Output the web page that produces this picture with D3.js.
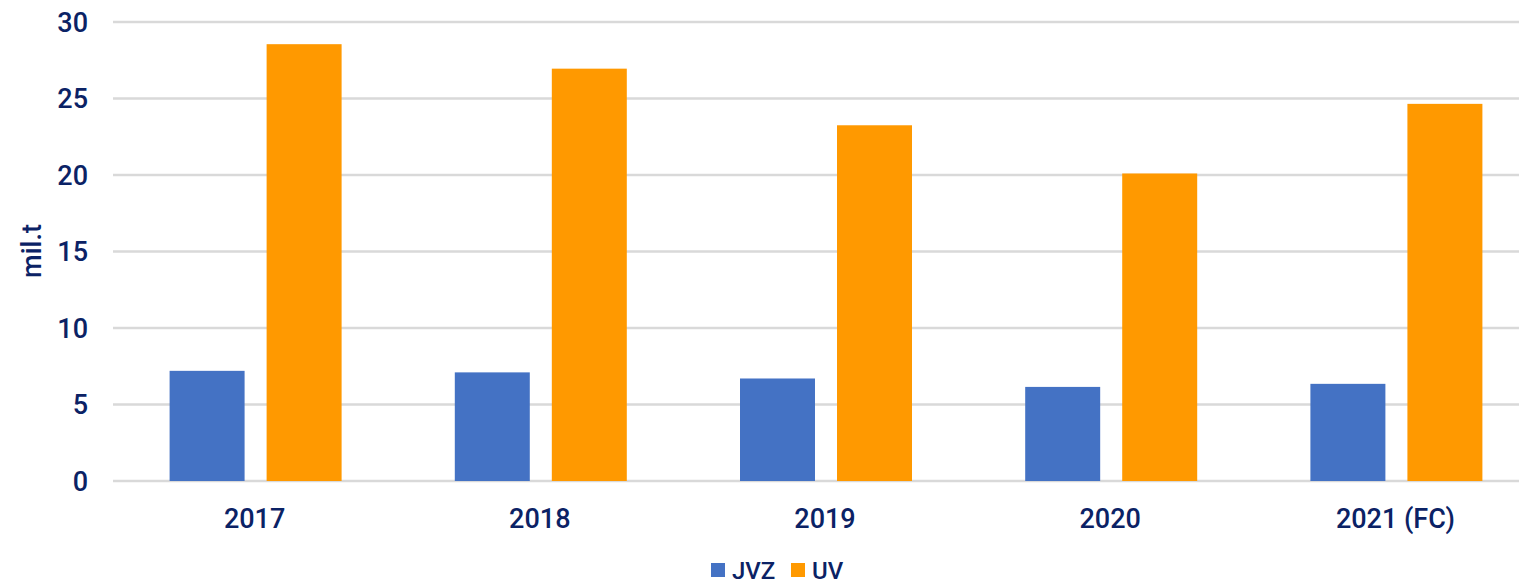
<!DOCTYPE html>
<html><head><meta charset="utf-8">
<script src="https://cdn.jsdelivr.net/npm/d3@7"></script>
<style>body{margin:0;background:#fff}svg{display:block}text{font-family:Roboto,"Liberation Sans",Arial,sans-serif;font-weight:500;fill:#0B2265}</style>
</head><body><svg id="c" width="1519" height="584"></svg>
<script>
const categories = ["2017","2018","2019","2020","2021 (FC)"];
const seriesNames = ["JVZ","UV"];
const jvz = [7.2, 7.1, 6.7, 6.15, 6.35];
const uv = [28.55, 26.95, 23.25, 20.1, 24.65];
const yTicks = [0,5,10,15,20,25,30];
const colors = ["#4472C4","#FF9900"];

const svg = d3.select("#c");
const L=113, R=1539, T=22, B=481;
const x0 = d3.scaleBand().domain(categories).range([L,R]);
const y = d3.scaleLinear().domain([0,30]).range([B,T]);
const bw = x0.bandwidth();
const x1 = d3.scaleBand().domain(seriesNames).range([bw/2-86, bw/2+86]).paddingInner(0.227);

svg.append("g").selectAll("line").data(yTicks).join("line")
 .attr("x1",L).attr("x2",1519).attr("y1",d=>y(d)).attr("y2",d=>y(d))
 .attr("stroke","#d9d9d9").attr("stroke-width",2.5);
svg.append("g").selectAll("text").data(yTicks).join("text")
 .attr("x",88).attr("y",d=>y(d)).attr("dy","0.36em").attr("text-anchor","end")
 .attr("font-size",27).text(d=>d);

const data = [jvz, uv];
data.forEach((vals,si)=>{
  svg.append("g").selectAll("rect").data(categories).join("rect")
   .attr("x",c=>x0(c)+x1(seriesNames[si]))
   .attr("width",x1.bandwidth())
   .attr("y",(c,i)=>y(vals[i]))
   .attr("height",(c,i)=>B-y(vals[i]))
   .attr("fill",colors[si]);
});

svg.append("g").selectAll("text").data(categories).join("text")
 .attr("x",c=>x0(c)+bw/2-1).attr("y",518).attr("dy","0.36em").attr("text-anchor","middle")
 .attr("font-size",27).text(c=>c);

svg.append("text").attr("transform","translate(31,251) rotate(-90)")
 .attr("text-anchor","middle").attr("dy","0.36em").attr("font-size",27).text("mil.t");

const lg = svg.append("g");
const lx=[711,791];
seriesNames.forEach((s,i)=>{
  lg.append("rect").attr("x",lx[i]).attr("y",563).attr("width",14).attr("height",14).attr("fill",colors[i]);
  lg.append("text").attr("x",lx[i]+21).attr("y",570).attr("dy","0.36em").attr("font-size",24).text(s);
});
</script></body></html>
